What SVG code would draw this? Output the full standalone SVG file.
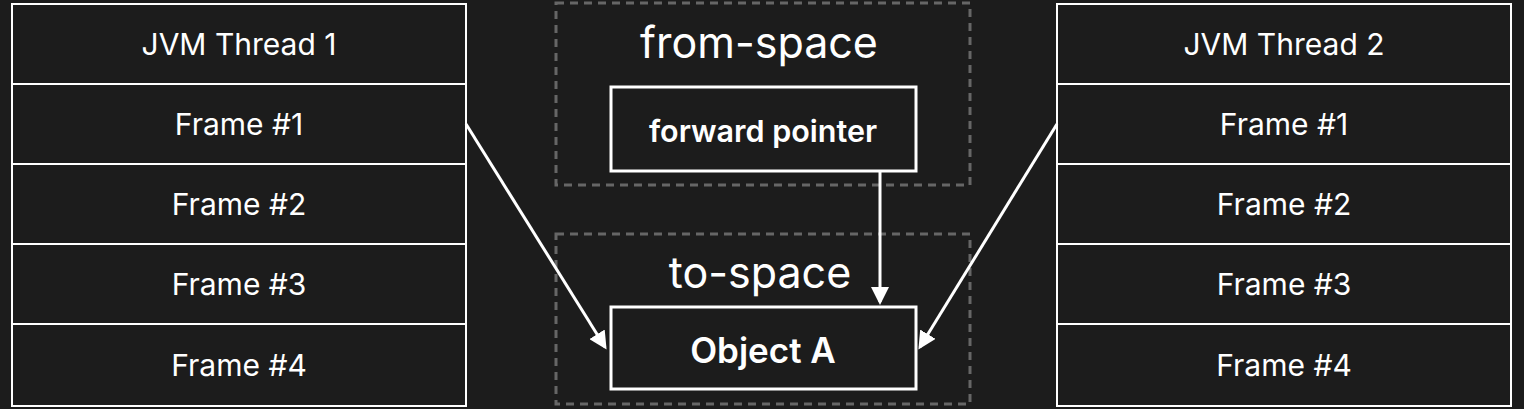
<svg xmlns="http://www.w3.org/2000/svg" width="1524" height="409" viewBox="0 0 1524 409">
<style>
.cell{fill:#1c1c1c;stroke:#fff;stroke-width:2}
.box{fill:#1c1c1c;stroke:#fff;stroke-width:3}
.dash{fill:none;stroke:#666;stroke-width:3;stroke-dasharray:8,6}
.t{font-family:Inter,"Liberation Sans",sans-serif;fill:#fff;text-anchor:middle;dominant-baseline:central}
.c{font-size:30px}
.b{font-size:30.5px;font-weight:600}
.big{font-size:43px}
.ln{stroke:#fff;stroke-width:3;fill:none}
</style>
<defs><marker id="ah" markerWidth="6" markerHeight="6" refX="5" refY="3" orient="auto" markerUnits="strokeWidth"><path d="M0,0 L6,3 L0,6 Z" fill="#fff"/></marker></defs>
<rect width="1524" height="409" fill="#1c1c1c"/>
<g id="thread1">
<rect class="cell" x="12" y="4" width="454" height="80"/><text class="t c" x="239" y="44">JVM Thread 1</text>
<rect class="cell" x="12" y="84" width="454" height="80"/><text class="t c" x="239" y="124">Frame #1</text>
<rect class="cell" x="12" y="164" width="454" height="80"/><text class="t c" x="239" y="204">Frame #2</text>
<rect class="cell" x="12" y="244" width="454" height="80"/><text class="t c" x="239" y="284">Frame #3</text>
<rect class="cell" x="12" y="324" width="454" height="82"/><text class="t c" x="239" y="365">Frame #4</text>
</g>
<g id="thread2">
<rect class="cell" x="1057" y="4" width="454" height="80"/><text class="t c" x="1284" y="44">JVM Thread 2</text>
<rect class="cell" x="1057" y="84" width="454" height="80"/><text class="t c" x="1284" y="124">Frame #1</text>
<rect class="cell" x="1057" y="164" width="454" height="80"/><text class="t c" x="1284" y="204">Frame #2</text>
<rect class="cell" x="1057" y="244" width="454" height="80"/><text class="t c" x="1284" y="284">Frame #3</text>
<rect class="cell" x="1057" y="324" width="454" height="82"/><text class="t c" x="1284" y="365">Frame #4</text>
</g>
<g id="from-space">
<rect class="dash" x="556" y="3" width="414" height="182"/>
<text class="t big" x="759" y="42">from-space</text>
</g>
<g id="forward-pointer">
<rect class="box" x="611" y="87" width="305" height="84"/>
<text class="t b" x="763" y="130">forward pointer</text>
</g>
<g id="to-space">
<rect class="dash" x="556" y="234" width="414" height="170"/>
<text class="t big" x="760" y="272">to-space</text>
</g>
<g id="object-a">
<rect class="box" x="611" y="307" width="305" height="82"/>
<text class="t b" x="763" y="350" style="font-size:35px">Object A</text>
</g>
<g id="connectors">
<line class="ln" x1="466" y1="124" x2="605" y2="347" marker-end="url(#ah)"/>
<line class="ln" x1="1057" y1="124" x2="920" y2="347" marker-end="url(#ah)"/>
<line class="ln" x1="880" y1="171" x2="880" y2="302" marker-end="url(#ah)"/>
</g>
</svg>
